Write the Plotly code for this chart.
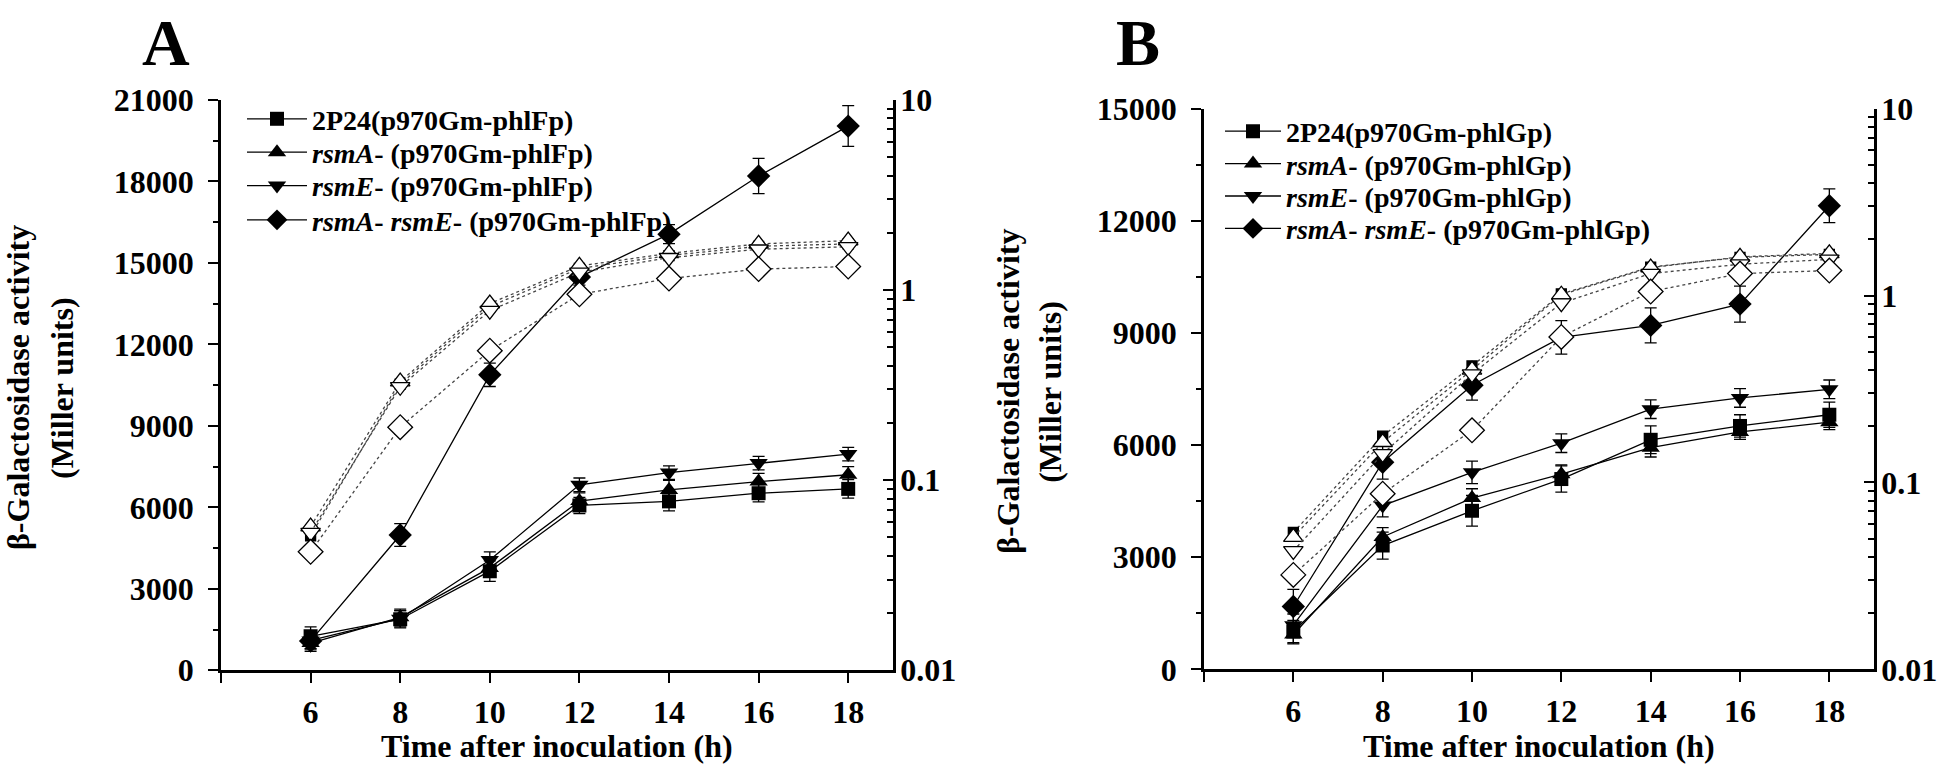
import plotly.graph_objects as go

FONT = "Liberation Serif"
W, H = 1946, 776

hours = [6, 8, 10, 12, 14, 16, 18]
x_tickvals = [4, 6, 8, 10, 12, 14, 16, 18]
x_ticktext = ["", "6", "8", "10", "12", "14", "16", "18"]
log_tickvals = [0.01, 0.1, 1, 10]
log_ticktext = ["0.01", "0.1", "1", "10"]

names_A = ["2P24(p970Gm-phlFp)", "<i>rsmA</i>- (p970Gm-phlFp)",
           "<i>rsmE</i>- (p970Gm-phlFp)", "<i>rsmA</i>- <i>rsmE</i>- (p970Gm-phlFp)"]
names_B = ["2P24(p970Gm-phlGp)", "<i>rsmA</i>- (p970Gm-phlGp)",
           "<i>rsmE</i>- (p970Gm-phlGp)", "<i>rsmA</i>- <i>rsmE</i>- (p970Gm-phlGp)"]

# Panel A: beta-galactosidase activity (Miller units)
A_wt = [1250, 1880, 3650, 6070, 6220, 6520, 6680]
A_wt_err = [350, 320, 380, 300, 350, 320, 340]
A_rsmA = [1000, 1950, 3770, 6230, 6640, 6950, 7200]
A_rsmA_err = [300, 300, 350, 300, 350, 300, 300]
A_rsmE = [1100, 1900, 4060, 6830, 7280, 7630, 7960]
A_rsmE_err = [300, 300, 300, 250, 250, 250, 250]
A_rsmAE = [1080, 4980, 10880, 14480, 16060, 18200, 20040]
A_rsmAE_err = [300, 420, 430, 300, 350, 650, 750]
# Panel A: growth (right log axis)
A_g_wt = [0.051, 0.32, 0.82, 1.30, 1.52, 1.70, 1.75]
A_g_rsmA = [0.057, 0.33, 0.85, 1.34, 1.56, 1.75, 1.82]
A_g_rsmE = [0.053, 0.31, 0.78, 1.24, 1.48, 1.64, 1.69]
A_g_rsmAE = [0.042, 0.19, 0.48, 0.95, 1.15, 1.29, 1.33]

# Panel B
B_wt = [1010, 3310, 4240, 5090, 6140, 6510, 6810]
B_wt_err = [300, 360, 410, 350, 370, 300, 340]
B_rsmA = [930, 3540, 4580, 5220, 5930, 6350, 6610]
B_rsmA_err = [250, 250, 250, 250, 250, 200, 200]
B_rsmE = [1180, 4380, 5270, 6050, 6960, 7260, 7490]
B_rsmE_err = [300, 300, 300, 250, 250, 250, 250]
B_rsmAE = [1680, 5540, 7600, 8880, 9200, 9770, 12400]
B_rsmAE_err = [460, 450, 400, 450, 470, 480, 450]
B_g_wt = [0.054, 0.177, 0.42, 1.02, 1.42, 1.60, 1.66]
B_g_rsmA = [0.051, 0.164, 0.40, 1.01, 1.41, 1.61, 1.68]
B_g_rsmE = [0.043, 0.142, 0.38, 0.91, 1.31, 1.47, 1.56]
B_g_rsmAE = [0.032, 0.087, 0.19, 0.60, 1.05, 1.31, 1.36]

solid_symbols = ["square", "triangle-up", "triangle-down", "diamond"]
solid_sizes = [14, 16, 16, 18]
open_symbols = ["square", "triangle-up", "triangle-down", "diamond"]
open_sizes = [10, 17, 17, 19]
open_fill = ["black", "white", "white", "white"]

fig = go.Figure()


def legend_id(k):
    return "legend" if k == 1 else f"legend{k}"


def add_panel(xa, ya, ya2, first_legend, names, acts, errs, growths):
    for i in range(4):
        fig.add_trace(go.Scatter(
            x=hours, y=acts[i], name=names[i], mode="lines+markers",
            xaxis=xa, yaxis=ya, legend=legend_id(first_legend + i),
            line=dict(color="black", width=1.3),
            marker=dict(symbol=solid_symbols[i], size=solid_sizes[i], color="black"),
            error_y=dict(type="data", array=errs[i], color="black", thickness=1.3, width=6),
        ))
    for i in range(4):
        fig.add_trace(go.Scatter(
            x=hours, y=growths[i], mode="lines+markers", showlegend=False,
            xaxis=xa, yaxis=ya2,
            line=dict(color="#444444", width=1.3, dash="dot"),
            marker=dict(symbol=open_symbols[i], size=open_sizes[i], color=open_fill[i],
                        line=dict(color="black", width=1.3)),
        ))


add_panel("x", "y", "y2", 1, names_A,
          [A_wt, A_rsmA, A_rsmE, A_rsmAE],
          [A_wt_err, A_rsmA_err, A_rsmE_err, A_rsmAE_err],
          [A_g_wt, A_g_rsmA, A_g_rsmE, A_g_rsmAE])
add_panel("x2", "y3", "y4", 5, names_B,
          [B_wt, B_rsmA, B_rsmE, B_rsmAE],
          [B_wt_err, B_rsmA_err, B_rsmE_err, B_rsmAE_err],
          [B_g_wt, B_g_rsmA, B_g_rsmE, B_g_rsmAE])

tickfont = dict(family=FONT, size=32, color="black", weight="bold")
minor_log = [m * 10 ** e for e in (-2, -1, 0) for m in range(2, 10)]


def xaxis(domain, anchor):
    return dict(domain=domain, anchor=anchor, range=[4, 19], tickmode="array",
                tickvals=x_tickvals, ticktext=x_ticktext, ticks="outside", ticklen=10,
                tickwidth=2, tickcolor="black", showline=True, linewidth=2.5,
                linecolor="black", showgrid=False, zeroline=False, tickfont=tickfont,
                ticklabelstandoff=2)


def yaxis_left(domain, anchor, top):
    return dict(domain=domain, anchor=anchor, range=[0, top], tick0=0, dtick=3000,
                tickformat="d",
                ticks="outside", ticklen=10, tickwidth=2, tickcolor="black",
                showline=True, linewidth=2.5, linecolor="black", showgrid=False,
                zeroline=False, tickfont=tickfont, ticklabelstandoff=8,
                minor=dict(dtick=1500, ticks="outside", ticklen=5, tickwidth=2,
                           tickcolor="black", showgrid=False))


def yaxis_right(overlay, anchor):
    return dict(overlaying=overlay, anchor=anchor, side="right", type="log",
                range=[-2, 1], tickmode="array", tickvals=log_tickvals,
                ticktext=log_ticktext, ticks="inside", ticklen=10, tickwidth=2,
                tickcolor="black", showline=True, linewidth=2.5, linecolor="black",
                showgrid=False, zeroline=False, tickfont=tickfont, ticklabelstandoff=-2,
                minor=dict(tickvals=minor_log, ticks="inside", ticklen=6, tickwidth=2,
                           tickcolor="black", showgrid=False))


yA = [1 - 684 / H, 1 - 86 / H]
yB = [1 - 683 / H, 1 - 95 / H]

legend_font = dict(family=FONT, size=28, color="black", weight="bold")
# one legend per row so rows sit where the reference puts them
rows_A = [106, 141, 176, 212]
rows_B = [119, 153, 187, 221]
legends = {}
for j, yc in enumerate(rows_A):
    legends[legend_id(1 + j)] = dict(x=242 / W, y=1 - yc / H, xanchor="left",
                                     yanchor="middle", bgcolor="rgba(0,0,0,0)",
                                     font=legend_font, itemwidth=60)
for j, yc in enumerate(rows_B):
    legends[legend_id(5 + j)] = dict(x=1220 / W, y=1 - yc / H, xanchor="left",
                                     yanchor="middle", bgcolor="rgba(0,0,0,0)",
                                     font=legend_font, itemwidth=56)

fig.update_layout(
    width=W, height=H, autosize=False,
    margin=dict(l=0, r=0, t=0, b=0),
    paper_bgcolor="white", plot_bgcolor="white",
    xaxis=xaxis([221 / W, 893 / W], "y"),
    yaxis=yaxis_left(yA, "x", 21000),
    yaxis2=yaxis_right("y", "x"),
    xaxis2=xaxis([1204 / W, 1874 / W], "y3"),
    yaxis3=yaxis_left(yB, "x2", 15000),
    yaxis4=yaxis_right("y3", "x2"),
    showlegend=True,
    **legends,
)

title_font = dict(family=FONT, size=32, color="black", weight="bold")
ann = []
for cx, text in [(18, "β-Galactosidase activity"), (62, "(Miller units)")]:
    ann.append(dict(x=cx / W, y=1 - 388 / H, xref="paper", yref="paper", text=text,
                    textangle=-90, showarrow=False, font=title_font,
                    xanchor="center", yanchor="middle"))
for cx, text in [(1008, "β-Galactosidase activity"), (1050, "(Miller units)")]:
    ann.append(dict(x=cx / W, y=1 - 392 / H, xref="paper", yref="paper", text=text,
                    textangle=-90, showarrow=False, font=title_font,
                    xanchor="center", yanchor="middle"))
for cx in [(221 + 893) / 2, (1204 + 1874) / 2]:
    ann.append(dict(x=cx / W, y=1 - 763 / H, xref="paper", yref="paper",
                    text="Time after inoculation (h)", showarrow=False, font=title_font,
                    xanchor="center", yanchor="middle"))
panel_font = dict(family=FONT, size=66, color="black", weight="bold")
ann.append(dict(x=166 / W, y=1, xref="paper", yref="paper", text="A",
                showarrow=False, font=panel_font, xanchor="center", yanchor="top",
                yshift=14))
ann.append(dict(x=1138 / W, y=1, xref="paper", yref="paper", text="B",
                showarrow=False, font=panel_font, xanchor="center", yanchor="top",
                yshift=14))
fig.update_layout(annotations=ann)

fig.write_html("out.html", config={"displayModeBar": False},
               post_script="document.body.style.margin='0';document.body.style.overflow='hidden';")
